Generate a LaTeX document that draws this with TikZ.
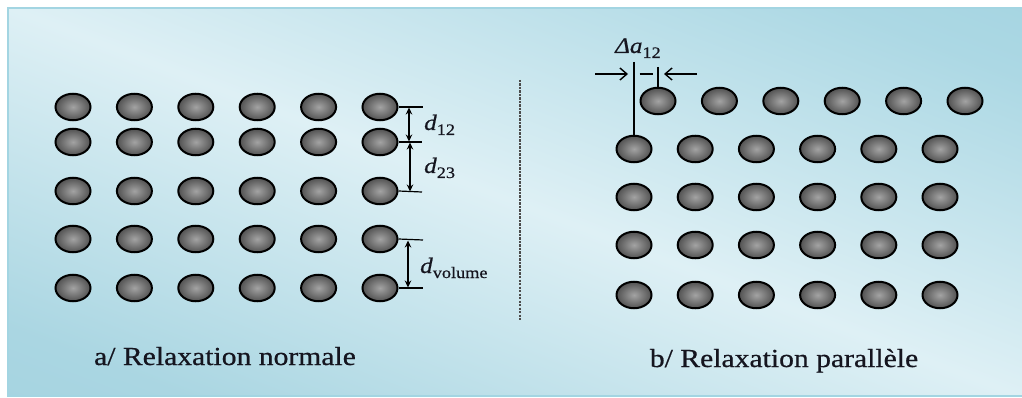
\documentclass[tikz,border=0pt]{standalone}
\usepackage{fontspec}
\setmainfont{Liberation Serif}[FakeStretch=1.14, FakeBold=0.6]
\usetikzlibrary{shapes.geometric,arrows.meta}

\definecolor{bgTR}{HTML}{86C5D6}
\definecolor{bgBL}{HTML}{8FCADA}
\definecolor{bgMidA}{HTML}{AAD6E2}
\definecolor{bgLight}{HTML}{DEF0F5}
\definecolor{bgMidB}{HTML}{ACD8E4}
\definecolor{frameline}{HTML}{A3D5E2}
\definecolor{inktext}{HTML}{15151F}

% background wash: dark corner, light diagonal band, dark corner
\pgfdeclareverticalshading{panelwash}{100bp}{%
  color(0bp)=(bgBL); color(30bp)=(bgMidA); color(50bp)=(bgLight);
  color(70bp)=(bgMidB); color(100bp)=(bgTR)}

\tikzset{
  atom/.style={ellipse, minimum width=35pt, minimum height=26.5pt, inner sep=0pt,
    draw=black, line width=2pt, shade, inner color=black!36, outer color=black!68},
  tickline/.style={line width=1.2pt, black},
  dimarrow/.style={line width=1.6pt, black, {Stealth[length=7pt,width=6.5pt]}-{Stealth[length=7pt,width=6.5pt]}},
  shiftarrow/.style={line width=1.4pt, black, -{Straight Barb[length=7pt,width=12pt,line width=1.4pt]}},
  caption/.style={inktext, font=\fontsize{26}{30}\selectfont, anchor=base, inner sep=0pt},
  dlabel/.style={inktext, font=\fontsize{22}{24}\selectfont, anchor=base west, inner sep=0pt},
}
\newcommand{\lowsub}[1]{\raisebox{-5pt}{\fontsize{16}{18}\selectfont #1}}

\begin{document}
\begin{tikzpicture}[x=1pt, y=-1pt]
  \useasboundingbox (0,0) rectangle (1022,398);
  \fill[white] (0,0) rectangle (1022,398);

  % panel background
  \begin{scope}
    \clip (8,8) rectangle (1022,396);
    \begin{scope}[transform canvas={rotate around={-21:(515,202)}}]
      \shade[shading=panelwash] (-150,-172) rectangle (1180,576);
    \end{scope}
  \end{scope}
  \draw[frameline, line width=2.5pt] (1022,8) -- (8,8) -- (8,396) -- (1022,396);

  % ---- a/ normal relaxation ----
  \foreach \r/\yy in {1/107,2/142,3/191,4/239,5/288}
    \foreach \c in {1,...,6}
      \node[atom] (L-\r-\c) at ({73+61.4*(\c-1)}, \yy) {};

  \coordinate (tk1) at (423,107);
  \coordinate (tk2) at (422,142);
  \coordinate (tk3) at (422,192);
  \coordinate (tk4) at (423,240);
  \coordinate (tk5) at (423,288);
  \draw[tickline] (L-1-6.east) -- (tk1);
  \draw[tickline] (L-2-6.east) -- (tk2);
  \draw[tickline] (L-3-6.east) -- (tk3);
  \draw[tickline] (L-4-6.east) -- (tk4);
  \draw[tickline] (L-5-6.east) -- (tk5);

  \coordinate (m1a) at (409,107.5);
  \coordinate (m1b) at (409,141.5);
  \coordinate (m2a) at (410,142.5);
  \coordinate (m2b) at (410,191.5);
  \coordinate (m3a) at (408,240.5);
  \coordinate (m3b) at (408,287.5);
  \draw[dimarrow] (m1a) -- (m1b);
  \draw[dimarrow] (m2a) -- (m2b);
  \draw[dimarrow] (m3a) -- (m3b);

  \node[dlabel] (d12) at (424,130) {\textit{d}\lowsub{12}};
  \node[dlabel] (d23) at (424,173) {\textit{d}\lowsub{23}};
  \node[dlabel] (dvol) at (420,273) {\textit{d}\lowsub{volume}};

  \node[caption] (capA) at (225,365) {a/ Relaxation normale};

  % separator
  \coordinate (sepT) at (520,80);
  \coordinate (sepB) at (520,320);
  \draw[black!70, line width=1.3pt, dash pattern=on 2.2pt off 1.3pt] (sepT) -- (sepB);

  % ---- b/ parallel relaxation ----
  \foreach \c in {1,...,6}
    \node[atom] (R-1-\c) at ({658+61.4*(\c-1)}, 101) {};
  \foreach \r/\yy in {2/149,3/197,4/245,5/295}
    \foreach \c in {1,...,6}
      \node[atom] (R-\r-\c) at ({634+61.2*(\c-1)}, \yy) {};

  \coordinate (refTop) at (634,62);
  \coordinate (shTop) at (658,67);
  \draw[line width=1.5pt, black] (refTop) -- (R-2-1.north);
  \draw[line width=1.5pt, black] (shTop) -- (R-1-1.north);
  \coordinate (gapL) at (639.5,74);
  \coordinate (gapR) at (652.5,74);
  \draw[line width=1.3pt, black] (gapL) -- (gapR);
  \coordinate (laS) at (595,74);
  \coordinate (laE) at (628,74);
  \coordinate (raS) at (697,74);
  \coordinate (raE) at (664,74);
  \draw[shiftarrow] (laS) -- (laE);
  \draw[shiftarrow] (raS) -- (raE);

  \node[dlabel] (da12) at (615,53) {\textit{Δa}\lowsub{12}};

  \node[caption] (capB) at (784,367) {b/ Relaxation parallèle};
\end{tikzpicture}
\end{document}
